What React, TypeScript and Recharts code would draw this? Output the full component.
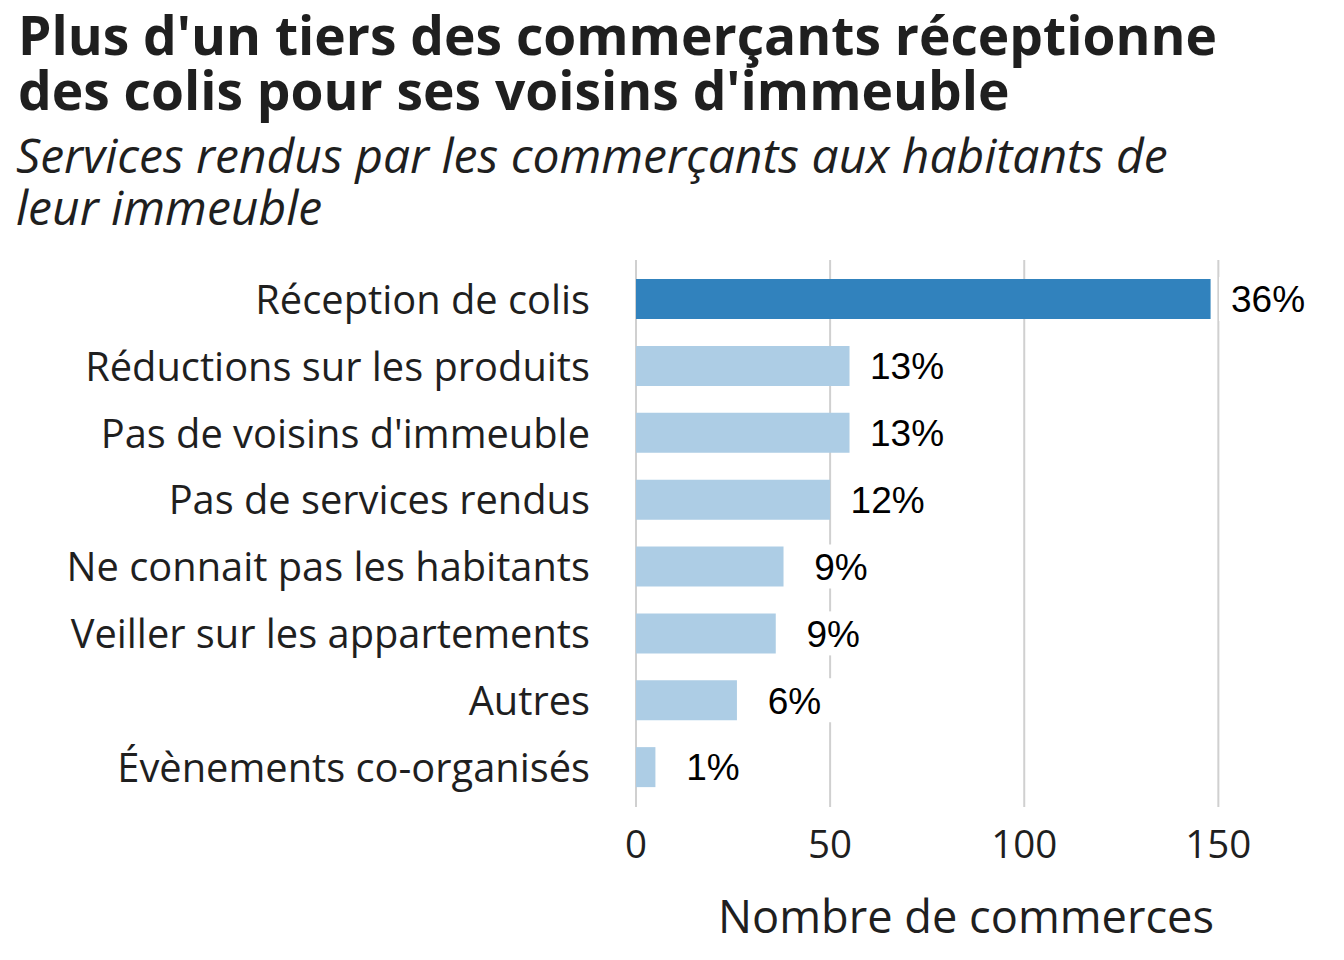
import React from "react";
import { BarChart, Bar, XAxis, YAxis, CartesianGrid, Cell, LabelList, Label } from "recharts";

const services = [
  "Réception de colis",
  "Réductions sur les produits",
  "Pas de voisins d'immeuble",
  "Pas de services rendus",
  "Ne connait pas les habitants",
  "Veiller sur les appartements",
  "Autres",
  "Évènements co-organisés",
];
const commerces = [148, 55, 55, 50, 38, 36, 26, 5];
const shares = ["36%", "13%", "13%", "12%", "9%", "9%", "6%", "1%"];
const highlighted = ["Réception de colis"];
const xTicks = [0, 50, 100, 150];

const titleLines = [
  "Plus d'un tiers des commerçants réceptionne",
  "des colis pour ses voisins d'immeuble",
];
const subtitleLines = [
  "Services rendus par les commerçants aux habitants de",
  "leur immeuble",
];

const data = services.map((service, i) => ({
  service,
  n: commerces[i],
  share: shares[i],
}));

const TEXT = "#1f1f1f";
const SANS = "'Open Sans', sans-serif";

// eslint-disable-next-line @typescript-eslint/no-explicit-any
const CategoryTick = (props: any) => {
  const { x, y, payload } = props;
  return (
    <text x={x - 46} y={y} dy="0.36em" textAnchor="end" fontFamily={SANS} fontSize={39.8} fill={TEXT}>
      {payload.value}
    </text>
  );
};

// eslint-disable-next-line @typescript-eslint/no-explicit-any
const CountTick = (props: any) => {
  const { x, y, payload } = props;
  return (
    <text x={x} y={y + 51} textAnchor="middle" fontFamily={SANS} fontSize={38.5} fill={TEXT}>
      {payload.value}
    </text>
  );
};

// eslint-disable-next-line @typescript-eslint/no-explicit-any
const ShareLabel = (props: any) => {
  const { x, y, width, height, value } = props;
  const cx = x + width + 57.5;
  const mid = y + height / 2;
  const s = String(value);
  const textW = (s.length - 1) * 20.6 + 33;
  return (
    <g>
      <rect x={cx - textW / 2 - 12} y={mid - 22} width={textW + 24} height={44} fill="#ffffff" />
      <text x={cx} y={mid} dy="0.36em" textAnchor="middle" fontFamily="'Liberation Sans', Arial, sans-serif" fontSize={37} fill="#000">
        {s}
      </text>
    </g>
  );
};

const App = () => {
  return (
    <div style={{ position: "absolute", left: 0, top: 0, width: 1344, height: 960, background: "#fff" }}>
      <svg width={1344} height={250} style={{ position: "absolute", left: 0, top: 0 }}>
        <text x={18} y={55} fontFamily={SANS} fontWeight={700} fontSize={53.3} fill={TEXT}>
          {titleLines[0]}
        </text>
        <text x={18} y={110} fontFamily={SANS} fontWeight={700} fontSize={53.3} fill={TEXT}>
          {titleLines[1]}
        </text>
        <text x={16} y={173} fontFamily={SANS} fontStyle="italic" fontSize={48} fill={TEXT}>
          {subtitleLines[0]}
        </text>
        <text x={16} y={225} fontFamily={SANS} fontStyle="italic" fontSize={48} fill={TEXT}>
          {subtitleLines[1]}
        </text>
      </svg>
      <div style={{ position: "absolute", left: 0, top: 0 }}>
        <BarChart
          width={1344}
          height={960}
          data={data}
          layout="vertical"
          margin={{ top: 260, right: 48, bottom: 0, left: 0 }}
          barSize={40}
        >
          <CartesianGrid horizontal={false} syncWithTicks stroke="#d0d0d0" strokeWidth={2} />
          <XAxis
            type="number"
            dataKey="n"
            domain={[0, 170]}
            ticks={xTicks}
            axisLine={false}
            tickLine={false}
            tickSize={0}
            tickMargin={0}
            height={153}
            tick={<CountTick />}
          >
            <Label
              content={(p: any) => {
                const vb = p.viewBox;
                return (
                  <text x={vb.x + vb.width / 2} y={933} textAnchor="middle" fontFamily={SANS} fontSize={45.2} fill={TEXT}>
                    Nombre de commerces
                  </text>
                );
              }}
            />
          </XAxis>
          <YAxis
            type="category"
            dataKey="service"
            width={636}
            axisLine={false}
            tickLine={false}
            tickSize={0}
            tickMargin={0}
            padding={{ top: 6, bottom: 6 }}
            interval={0}
            tick={<CategoryTick />}
          />
          <Bar dataKey="n" isAnimationActive={false}>
            {data.map((d) => (
              <Cell key={d.service} fill={highlighted.includes(d.service) ? "#3182bd" : "#adcde5"} />
            ))}
            <LabelList dataKey="share" content={<ShareLabel />} />
          </Bar>
        </BarChart>
      </div>
    </div>
  );
};

export default App;
